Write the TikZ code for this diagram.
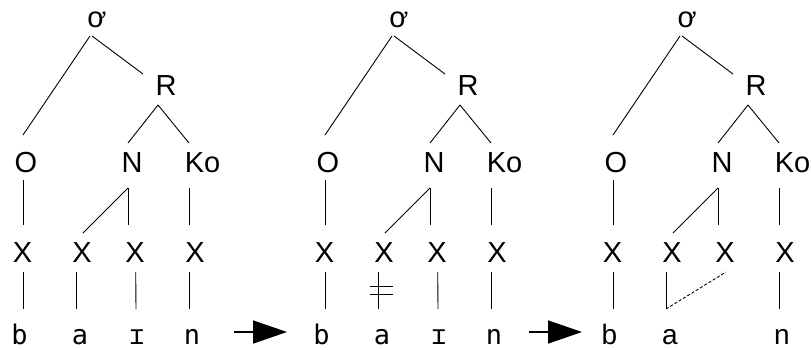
\documentclass[tikz,border=0pt]{standalone}
\usepackage{fontspec}
\setmainfont{Liberation Sans}
\newfontfamily\segmono{DejaVu Sans Mono}
\usetikzlibrary{arrows.meta}

\tikzset{
  lab/.style={font=\fontsize{29}{31}\selectfont, inner sep=0pt, anchor=base},
  seg/.style={font=\segmono\fontsize{27}{29}\selectfont, inner sep=0pt, anchor=base},
  segsans/.style={font=\fontsize{28}{30}\selectfont, inner sep=0pt, anchor=base},
  link/.style={line width=0.9pt},
  dotlink/.style={line width=0.9pt, dash pattern=on 3pt off 2pt},
  derive/.style={line width=1.5pt, -{Triangle[length=34pt,width=23pt]}}
}

% syllable skeleton: sigma, rhyme, onset/nucleus/coda and the X tier
% #1 = name prefix, #2 = horizontal offset
\newcommand\sylskeleton[2]{%
  \node[lab] (#1sig) at ({97+#2},27.5) {ơ};
  \node[lab] (#1R)   at ({166+#2},95.5) {R};
  \node[lab] (#1O)   at ({26+#2},172) {O};
  \node[lab] (#1N)   at ({132+#2},172) {N};
  \node[lab] (#1Ko)  at ({202.5+#2},172) {Ko};
  \node[lab] (#1x1)  at ({22.5+#2},262) {X};
  \node[lab] (#1x2)  at ({82+#2},262) {X};
  \node[lab] (#1x3)  at ({135+#2},262) {X};
  \node[lab] (#1x4)  at ({195+#2},262) {X};
  \draw[link] ([shift={(-7,8.5)}]#1sig.base) -- ([shift={(-3,-37)}]#1O.base);
  \draw[link] ([shift={(-5,8.5)}]#1sig.base) -- ([shift={(-23,-21.5)}]#1R.base);
  \draw[link] ([shift={(-8,9.5)}]#1R.base) -- ([shift={(-4,-29)}]#1N.base);
  \draw[link] ([shift={(-8,9.5)}]#1R.base) -- ([shift={(-13.5,-29)}]#1Ko.base);
  \draw[link] ([shift={(-3,8)}]#1O.base) -- ([shift={(0.5,-37)}]#1x1.base);
  \draw[link] ([shift={(-4,16)}]#1N.base) -- ([shift={(-7,-37)}]#1x3.base);
  \draw[link] ([shift={(-4,16)}]#1N.base) -- ([shift={(1,-29)}]#1x2.base);
  \draw[link] ([shift={(-13.5,16)}]#1Ko.base) -- ([shift={(-6,-37)}]#1x4.base);
}

\begin{document}
\begin{tikzpicture}[x=1pt,y=-1pt]
  \useasboundingbox (0,0) rectangle (811,349);

  % first form: b a ɪ n
  \sylskeleton{p}{0}
  \node[seg] (pb) at (19.5,344) {b};
  \node[seg] (pa) at (80,344) {a};
  \node[seg] (pi) at (137,344) {ɪ};
  \node[seg] (pn) at (192,344) {n};
  \draw[link] ([shift={(0.7,10)}]px1.base) -- ([shift={(3.7,-35)}]pb.base);
  \draw[link] ([shift={(-6,10)}]px2.base) -- ([shift={(-4,-35)}]pa.base);
  \draw[link] ([shift={(0.7,10)}]px3.base) -- ([shift={(-1,-35)}]pi.base);
  \draw[link] ([shift={(-6,10)}]px4.base) -- ([shift={(-3,-35)}]pn.base);

  % second form: the a association is cut
  \sylskeleton{q}{302}
  \node[seg] (qb) at (321.5,344) {b};
  \node[seg] (qa) at (382,344) {a};
  \node[seg] (qi) at (439,344) {ɪ};
  \node[seg] (qn) at (494,344) {n};
  \draw[link] ([shift={(0.7,10)}]qx1.base) -- ([shift={(3.7,-35)}]qb.base);
  \draw[link] ([shift={(-6,10)}]qx2.base) -- ([shift={(-4,-35)}]qa.base);
  \draw[link] ([shift={(0.7,10)}]qx3.base) -- ([shift={(-1,-35)}]qi.base);
  \draw[link] ([shift={(-6,10)}]qx4.base) -- ([shift={(-3,-35)}]qn.base);
  \draw[link] ([shift={(-12,-58)}]qa.base) -- ++(23,0);
  \draw[link] ([shift={(-12,-50)}]qa.base) -- ++(23,0);

  % third form: a spreads to the freed slot
  \sylskeleton{r}{590}
  \node[segsans] (rb) at (609.5,344) {b};
  \node[segsans] (ra) at (670,344) {a};
  \node[segsans] (rn) at (782,344) {n};
  \draw[link] ([shift={(0.7,10)}]rx1.base) -- ([shift={(3.7,-35)}]rb.base);
  \draw[link] ([shift={(-6,10)}]rx2.base) -- ([shift={(-4,-35)}]ra.base);
  \draw[link] ([shift={(-6,10)}]rx4.base) -- ([shift={(-3,-35)}]rn.base);
  \draw[dotlink] ([shift={(-4,-35)}]ra.base) -- ([shift={(1,10)}]rx3.base);

  % derivation arrows
  \draw[derive] ([shift={(42,-12)}]pn.base) -- ([shift={(-34.5,-12)}]qb.base);
  \draw[derive] ([shift={(35,-12)}]qn.base) -- ([shift={(-27.5,-12)}]rb.base);
\end{tikzpicture}
\end{document}
